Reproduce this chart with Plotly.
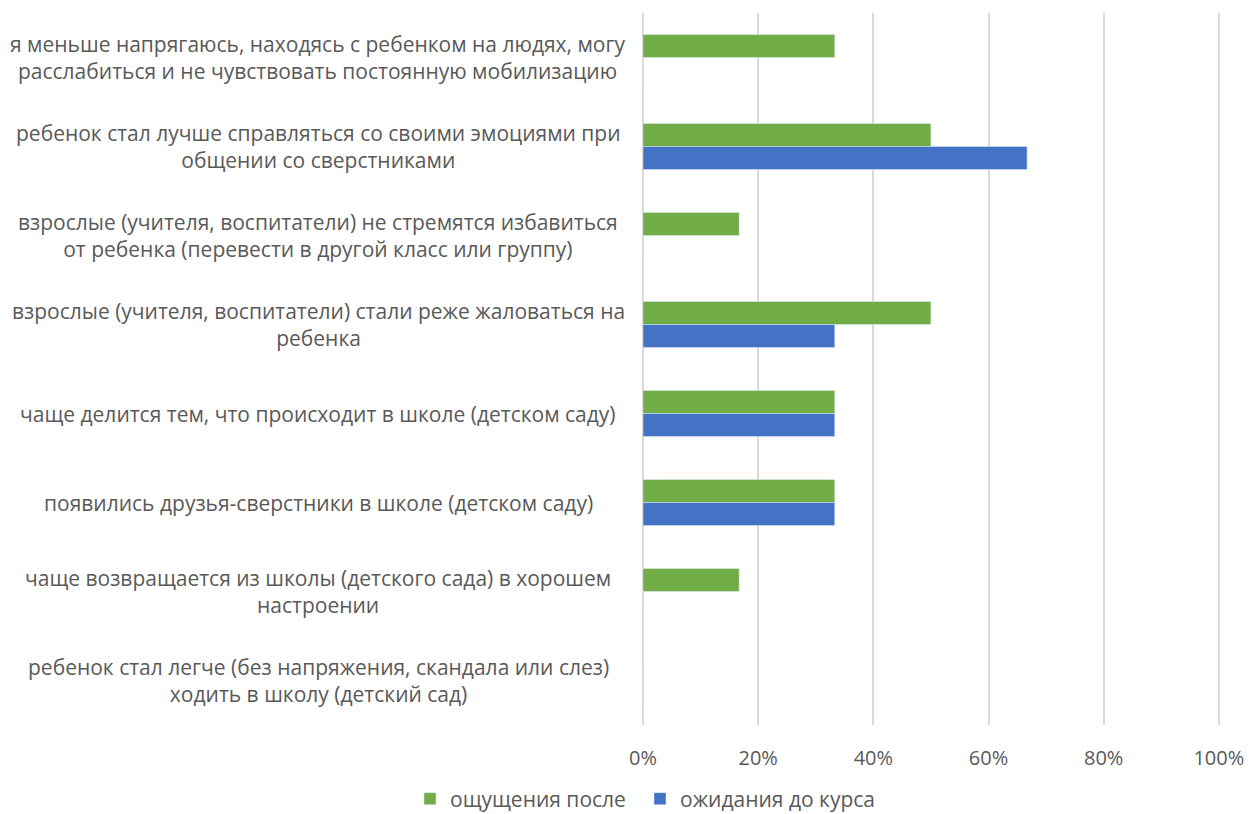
import plotly.graph_objects as go

categories = [
    "я меньше напрягаюсь, находясь с ребенком на людях, могу<br>расслабиться и не чувствовать постоянную мобилизацию",
    "ребенок стал лучше справляться со своими эмоциями при<br>общении со сверстниками",
    "взрослые (учителя, воспитатели) не стремятся избавиться<br>от ребенка (перевести в другой класс или группу)",
    "взрослые (учителя, воспитатели) стали реже жаловаться на<br>ребенка",
    "чаще делится тем, что происходит в школе (детском саду)",
    "появились друзья-сверстники в школе (детском саду)",
    "чаще возвращается из школы (детского сада) в хорошем<br>настроении",
    "ребенок стал легче (без напряжения, скандала или слез)<br>ходить в школу (детский сад)",
]
after_vals = [0.333, 0.5, 0.167, 0.5, 0.333, 0.333, 0.167, 0.0]
before_vals = [0.0, 0.667, 0.0, 0.333, 0.333, 0.333, 0.0, 0.0]
series_names = ["ощущения после", "ожидания до курса"]
tick_vals = [0, 0.2, 0.4, 0.6, 0.8, 1.0]
tick_text = ["0%", "20%", "40%", "60%", "80%", "100%"]

FONT = "Open Sans"
GREY = "#595959"
ids = list(range(len(categories)))

fig = go.Figure()
fig.add_trace(go.Bar(y=ids, x=after_vals, orientation="h", name=series_names[0],
                     marker=dict(color="#70AD47")))
fig.add_trace(go.Bar(y=ids, x=before_vals, orientation="h", name=series_names[1],
                     marker=dict(color="#4472C4")))

W, H = 1249, 814
L, T = 643, 13
R = W - 1220
B = H - 725
pw = W - L - R
ph = H - T - B
label_center_px = 318
for i, c in enumerate(categories):
    fig.add_annotation(x=(label_center_px - L) / pw, xref="paper", y=i, yref="y",
                       text=c, showarrow=False, xanchor="center", yanchor="middle",
                       align="center", font=dict(family=FONT, size=21, color=GREY))

fig.update_layout(
    width=W, height=H,
    margin=dict(l=L, r=R, t=T, b=B, autoexpand=False),
    barmode="group", bargap=0.483, bargroupgap=0,
    plot_bgcolor="white", paper_bgcolor="white",
    font=dict(family=FONT, size=20, color=GREY),
    legend=dict(orientation="h", x=410 / W, xref="container", xanchor="left",
                y=-(799 - 725) / ph, yref="paper", yanchor="middle",
                font=dict(family=FONT, size=21, color=GREY), itemwidth=30,
                entrywidth=185, entrywidthmode="pixels",
                traceorder="normal"),
    xaxis=dict(range=[0, 1.002], tickvals=tick_vals, ticktext=tick_text,
               showgrid=True, gridcolor="#D9D9D9", gridwidth=1.5,
               zeroline=True, zerolinecolor="#D9D9D9", zerolinewidth=1.5,
               showline=False, ticks="", ticklabelstandoff=19,
               ticklabeloverflow="allow",
               tickfont=dict(family=FONT, size=20, color=GREY)),
    yaxis=dict(autorange="reversed", showticklabels=False, showgrid=False,
               zeroline=False, showline=False, ticks=""),
)

# widen only the legend's clip box so the last entry is not cut
fig.write_html(
    "out.html",
    config={"displayModeBar": False},
    post_script=(
        "document.body.style.margin='0';document.body.style.overflow='hidden';"
        "var gd=document.getElementById('{plot_id}');"
        "gd.querySelectorAll('.legend clipPath rect, clipPath[id*=legend] rect').forEach(function(r){"
        "r.setAttribute('width', String(parseFloat(r.getAttribute('width'))+40));});"
    ),
)
